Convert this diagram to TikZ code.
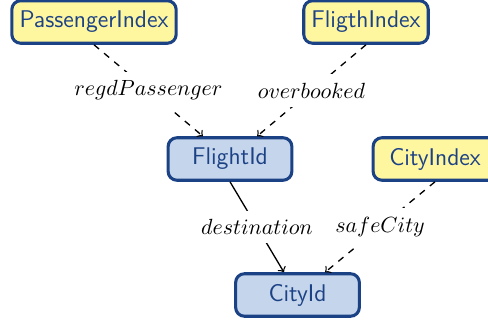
\documentclass[tikz,border=0pt]{standalone}
\usepackage{xcolor}
\usepackage{tikz}
\usepackage{amsmath}
\usetikzlibrary{positioning}

\definecolor{idxyellow}{RGB}{255,246,160}
\definecolor{idblue}{RGB}{197,213,235}
\definecolor{navy}{RGB}{28,66,134}

\begin{document}
\begin{tikzpicture}
                [box/.style = {draw=navy, line width=1.4pt, rounded corners=4pt, text=navy, font=\sffamily\fontsize{11}{13}\selectfont, minimum width=1.98cm, minimum height=0.68cm, inner xsep=3.5pt},
                 idxbox/.style = {box, fill=idxyellow}, idbox/.style = {box, fill=idblue},
                 lbl/.style = {fill=white, inner xsep=1pt, inner ysep=4pt}]
                \useasboundingbox (0,0) rectangle (7.808,5.12);
                % Index nodes
                \node[idxbox] (pidx) at (1.504,4.768) {PassengerIndex};
                \node[idxbox] (fidx) at (5.856,4.768) {FligthIndex};
                \node[idxbox] (cidx) at (6.96,2.576) {CityIndex};
                % Id nodes
                \node[idbox] (fid) at (3.68,2.576) {FlightId};
                \node[idbox] (cid) at (4.76,0.4) {CityId};
                % Lines
                \path[->, dashed, line width=0.6pt] (pidx.south) edge node[lbl] {$regdPassenger$} (fid);
                \path[->, dashed, line width=0.6pt] (fidx.south) edge node[lbl] {$overbooked$} (fid);
                \path[->, line width=0.6pt] (fid.south) edge node[lbl] {$destination$} (cid);
                \path[->, dashed, line width=0.6pt] (cidx.south) edge node[lbl] {$safeCity$} (cid);
            \end{tikzpicture}
\end{document}
